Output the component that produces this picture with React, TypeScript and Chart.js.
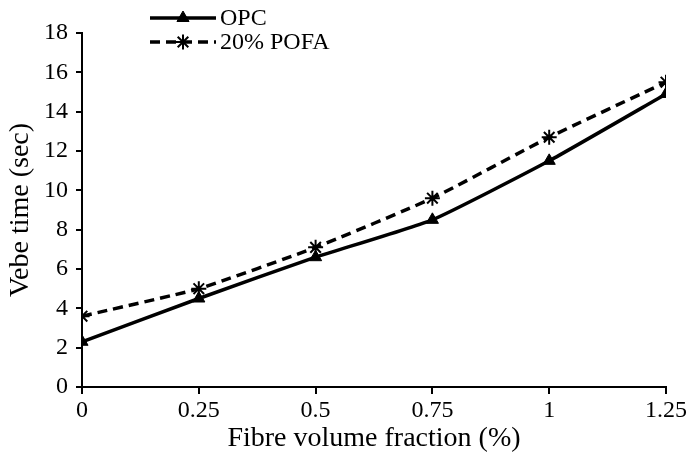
import React, { useEffect, useRef } from "react";
import { Chart, registerables, PointElement } from "chart.js";

Chart.register(...registerables);

const fibreFractions = [0, 0.25, 0.5, 0.75, 1, 1.25];
const opcValues = [2.3, 4.5, 6.6, 8.5, 11.5, 14.9];
const pofaValues = [3.6, 5.0, 7.1, 9.6, 12.7, 15.5];
const seriesLabels = ["OPC", "20% POFA"];
const xTitle = "Fibre volume fraction (%)";
const yTitle = "Vebe time (sec)";

const FONT = "'Liberation Serif', 'Times New Roman', serif";

const legendPlugin = {
  id: "customLegend",
  afterDraw(chart: any) {
    const ctx = chart.ctx;
    const items = chart.data.datasets;
    items.forEach((ds: any, i: number) => {
      const y = 18 + i * 24;
      const x0 = 150;
      const x1 = 216;
      ctx.save();
      ctx.strokeStyle = "#000";
      ctx.lineWidth = 3.5;
      ctx.setLineDash(ds.borderDash || []);
      ctx.beginPath();
      ctx.moveTo(x0, y);
      ctx.lineTo(x1, y);
      ctx.stroke();
      ctx.setLineDash([]);
      const pt: any = new (PointElement as any)({
        x: (x0 + x1) / 2,
        y,
        options: {
          pointStyle: ds.pointStyle,
          radius: ds.pointRadius,
          borderWidth: ds.pointBorderWidth,
          backgroundColor: "#000",
          borderColor: "#000",
          rotation: 0,
          hitRadius: 1,
          hoverRadius: 1,
        },
      });
      pt.draw(ctx);
      ctx.fillStyle = "#000";
      ctx.font = `24px ${FONT}`;
      ctx.textBaseline = "middle";
      ctx.textAlign = "left";
      ctx.fillText(ds.label, x1 + 4, y + 1);
      ctx.restore();
    });
  },
};

export default function App() {
  const ref = useRef<HTMLCanvasElement>(null);
  useEffect(() => {
    document.body.style.margin = "0";
    const canvas = ref.current!;
    const chart = new Chart(canvas, {
      type: "line",
      data: {
        datasets: [
          {
            label: seriesLabels[0],
            data: fibreFractions.map((x, i) => ({ x, y: opcValues[i] })),
            borderColor: "#000",
            backgroundColor: "#000",
            borderWidth: 3.5,
            pointStyle: "triangle",
            pointRadius: 7,
            pointBorderWidth: 1,
            pointBackgroundColor: "#000",
            pointBorderColor: "#000",
            tension: 0.15,
          },
          {
            label: seriesLabels[1],
            data: fibreFractions.map((x, i) => ({ x, y: pofaValues[i] })),
            borderColor: "#000",
            backgroundColor: "#000",
            borderWidth: 3.5,
            borderDash: [10, 6],
            pointStyle: "star",
            pointRadius: 7.5,
            pointBorderWidth: 2,
            pointBackgroundColor: "#000",
            pointBorderColor: "#000",
            tension: 0.15,
          },
        ],
      },
      options: {
        responsive: false,
        animation: false,
        layout: { padding: { top: 33, right: 23, left: 0, bottom: 0 } },
        plugins: {
          legend: { display: false },
          tooltip: { enabled: false },
        },
        scales: {
          x: {
            type: "linear",
            min: 0,
            max: 1.25,
            afterFit: (s: any) => {
              s.height = 68;
            },
            ticks: {
              stepSize: 0.25,
              color: "#000",
              font: { family: FONT, size: 24 },
              padding: 2,
              maxRotation: 0,
              callback: (v: any) => String(v),
            },
            grid: {
              drawOnChartArea: false,
              drawTicks: true,
              tickLength: 7,
              color: "#000",
              lineWidth: 2,
            },
            border: { color: "#000", width: 2 },
            title: {
              display: true,
              text: xTitle,
              color: "#000",
              font: { family: FONT, size: 28 },
              padding: { top: 0, bottom: 0 },
            },
          },
          y: {
            min: 0,
            max: 18,
            afterFit: (s: any) => {
              s.width = 82;
            },
            ticks: {
              stepSize: 2,
              color: "#000",
              font: { family: FONT, size: 24 },
              padding: 8,
            },
            grid: {
              drawOnChartArea: false,
              drawTicks: true,
              tickLength: 6,
              color: "#000",
              lineWidth: 2,
            },
            border: { color: "#000", width: 2 },
            title: {
              display: true,
              text: yTitle,
              color: "#000",
              font: { family: FONT, size: 28 },
              padding: { top: 4, bottom: 0 },
            },
          },
        },
      },
      plugins: [legendPlugin],
    });
    return () => chart.destroy();
  }, []);
  return (
    <div style={{ width: 689, height: 455 }}>
      <canvas ref={ref} width={689} height={455} style={{ display: "block" }} />
    </div>
  );
}
